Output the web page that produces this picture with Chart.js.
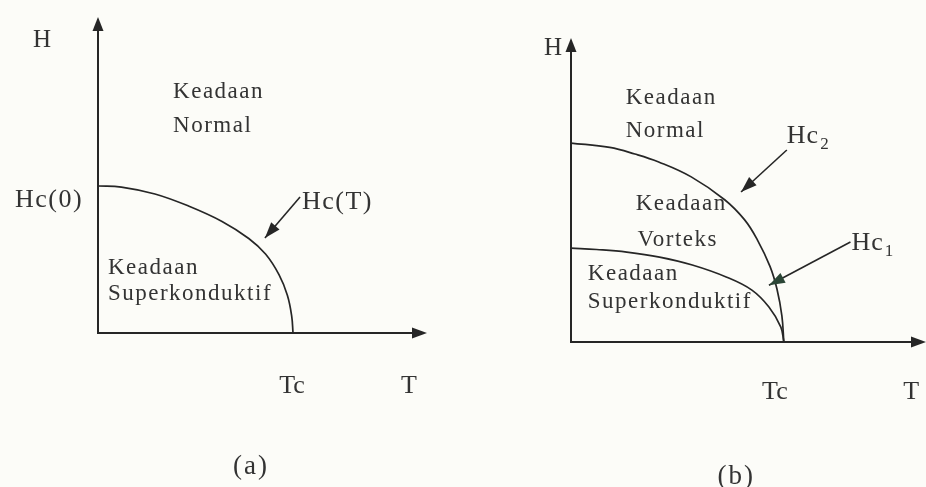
<!DOCTYPE html>
<html>
<head>
<meta charset="utf-8">
<script src="https://cdn.jsdelivr.net/npm/chart.js@4.4.1/dist/chart.umd.min.js"></script>
<style>
  html, body { margin: 0; padding: 0; background: #fcfcf8; }
  #wrap { position: relative; width: 926px; height: 487px; overflow: hidden; }
  #wrap canvas { position: absolute; top: 0; }
</style>
</head>
<body>
<div id="wrap">
  <canvas id="grafikA" width="463" height="487" style="left:0"></canvas>
  <canvas id="grafikB" width="463" height="487" style="left:463px"></canvas>
</div>
<script>
// suhu dalam satuan Tc, medan dalam satuan Hc(0) / Hc2(0)
const suhuA = [0, 0.12, 0.292, 0.464, 0.636, 0.773, 0.859, 0.928, 0.971, 0.993, 1.0];
const medanHcA = [1.0, 0.993, 0.946, 0.864, 0.759, 0.643, 0.537, 0.397, 0.257, 0.117, 0];

const suhuHc2 = [0, 0.182, 0.3, 0.412, 0.565, 0.722, 0.815, 0.875, 0.935, 0.968, 0.991, 1.0];
const medanHc2 = [1.0, 0.978, 0.945, 0.905, 0.83, 0.715, 0.615, 0.515, 0.38, 0.265, 0.13, 0];

const suhuHc1 = [0, 0.12, 0.262, 0.416, 0.57, 0.729, 0.85, 0.93, 0.986, 1.0];
const medanHc1 = [0.472, 0.465, 0.452, 0.427, 0.387, 0.327, 0.261, 0.176, 0.075, 0];

const labelSumbuX = ['Tc', 'T'];

const WARNA_GARIS = '#262626';
const WARNA_TEKS = '#333333';
const FONT = '"Liberation Serif", "DejaVu Serif", serif';

function keTitik(xs, ys) {
    return xs.map((x, i) => ({ x: x, y: ys[i] }));
}

function kepalaPanah(ctx, x0, y0, x1, y1, panjang, lebar) {
    const sudut = Math.atan2(y1 - y0, x1 - x0);
    const bx = x1 - panjang * Math.cos(sudut);
    const by = y1 - panjang * Math.sin(sudut);
    const nx = Math.sin(sudut) * lebar / 2;
    const ny = -Math.cos(sudut) * lebar / 2;
    ctx.beginPath();
    ctx.moveTo(x1, y1);
    ctx.lineTo(bx + nx, by + ny);
    ctx.lineTo(bx - nx, by - ny);
    ctx.closePath();
    ctx.fill();
}

// sumbu berpanah, penunjuk kurva dan semua teks
const pluginDiagram = {
    id: 'diagram',
    afterDatasetsDraw(chart, args, opts) {
        const ctx = chart.ctx;
        const sx = chart.scales.x, sy = chart.scales.y;
        const X = v => sx.getPixelForValue(v);
        const Y = v => sy.getPixelForValue(v);
        ctx.save();

        // sumbu H dan T
        ctx.strokeStyle = WARNA_GARIS;
        ctx.fillStyle = WARNA_GARIS;
        ctx.lineWidth = 2;
        ctx.beginPath();
        ctx.moveTo(X(0), Y(sy.max) + 8);
        ctx.lineTo(X(0), Y(0));
        ctx.lineTo(X(sx.max) - 8, Y(0));
        ctx.stroke();
        kepalaPanah(ctx, X(0), Y(0), X(0), Y(sy.max), 14, 11);
        kepalaPanah(ctx, X(0), Y(0), X(sx.max), Y(0), 15, 11);

        // penunjuk ke kurva
        ctx.lineWidth = 1.6;
        opts.penunjuk.forEach(p => {
            ctx.fillStyle = p.warna || WARNA_GARIS;
            ctx.strokeStyle = WARNA_GARIS;
            ctx.beginPath();
            ctx.moveTo(X(p.dari[0]), Y(p.dari[1]));
            ctx.lineTo(X(p.ke[0]), Y(p.ke[1]));
            ctx.stroke();
            kepalaPanah(ctx, X(p.dari[0]), Y(p.dari[1]), X(p.ke[0]), Y(p.ke[1]), 16, 11);
        });

        // teks
        ctx.fillStyle = WARNA_TEKS;
        ctx.textBaseline = 'middle';
        opts.teks.forEach(t => {
            ctx.font = t.ukuran + 'px ' + FONT;
            ctx.letterSpacing = (t.spasi || 0) + 'px';
            ctx.textAlign = t.rata || 'left';
            const px = X(t.x), py = Y(t.y);
            ctx.fillText(t.isi, px, py);
            if (t.sub) {
                const w = ctx.measureText(t.isi).width;
                ctx.font = Math.round(t.ukuran * 0.65) + 'px ' + FONT;
                ctx.fillText(t.sub, px + w + 1, py + 8);
            }
        });
        ctx.restore();
    }
};
Chart.register(pluginDiagram);

function opsiDiagram(xMax, yMax, padding, penunjuk, teks) {
    return {
        responsive: false,
        animation: false,
        events: [],
        layout: { padding: padding },
        plugins: {
            legend: { display: false },
            tooltip: { enabled: false },
            diagram: { penunjuk: penunjuk, teks: teks }
        },
        scales: {
            x: { type: 'linear', min: 0, max: xMax, display: false },
            y: { type: 'linear', min: 0, max: yMax, display: false }
        }
    };
}

function datasetKurva(xs, ys) {
    return {
        data: keTitik(xs, ys),
        showLine: true,
        borderColor: WARNA_GARIS,
        borderWidth: 1.7,
        pointRadius: 0,
        tension: 0.4,
        clip: false
    };
}

// (a) superkonduktor tipe I
new Chart(document.getElementById('grafikA').getContext('2d'), {
    type: 'scatter',
    data: { datasets: [datasetKurva(suhuA, medanHcA)] },
    options: opsiDiagram(1.687, 2.15,
        { left: 98, right: 36, top: 17, bottom: 154 },
        [{ dari: [1.036, 0.925], ke: [0.856, 0.646] }],
        [
            { isi: 'H', x: -0.287, y: 1.993, ukuran: 25, rata: 'center' },
            { isi: 'Keadaan', x: 0.385, y: 1.639, ukuran: 23, spasi: 1.5 },
            { isi: 'Normal', x: 0.385, y: 1.408, ukuran: 23, spasi: 1.5 },
            { isi: 'Hc(0)', x: -0.426, y: 0.905, ukuran: 26, spasi: 1.5 },
            { isi: 'Hc(T)', x: 1.046, y: 0.891, ukuran: 26, spasi: 1.5 },
            { isi: 'Keadaan', x: 0.051, y: 0.442, ukuran: 23, spasi: 1.5 },
            { isi: 'Superkonduktif', x: 0.051, y: 0.265, ukuran: 23, spasi: 1.5 },
            { isi: labelSumbuX[0], x: 0.995, y: -0.361, ukuran: 26, rata: 'center' },
            { isi: labelSumbuX[1], x: 1.595, y: -0.361, ukuran: 26, rata: 'center' },
            { isi: '(a)', x: 0.785, y: -0.912, ukuran: 27, spasi: 2, rata: 'center' }
        ])
});

// (b) superkonduktor tipe II
new Chart(document.getElementById('grafikB').getContext('2d'), {
    type: 'scatter',
    data: { datasets: [datasetKurva(suhuHc2, medanHc2), datasetKurva(suhuHc1, medanHc1)] },
    options: opsiDiagram(1.668, 1.528,
        { left: 108, right: 0, top: 38, bottom: 145 },
        [
            { dari: [1.014, 0.965], ke: [0.799, 0.754] },
            { dari: [1.313, 0.503], ke: [0.93, 0.285], warna: '#2b4636' }
        ],
        [
            { isi: 'H', x: -0.084, y: 1.477, ukuran: 25, rata: 'center' },
            { isi: 'Keadaan', x: 0.257, y: 1.226, ukuran: 23, spasi: 1.5 },
            { isi: 'Normal', x: 0.257, y: 1.060, ukuran: 23, spasi: 1.5 },
            { isi: 'Hc', sub: '2', x: 1.014, y: 1.035, ukuran: 26, spasi: 1 },
            { isi: 'Keadaan', x: 0.304, y: 0.693, ukuran: 23, spasi: 1.5 },
            { isi: 'Vorteks', x: 0.313, y: 0.513, ukuran: 23, spasi: 1.5 },
            { isi: 'Hc', sub: '1', x: 1.318, y: 0.497, ukuran: 26, spasi: 1 },
            { isi: 'Keadaan', x: 0.079, y: 0.342, ukuran: 23, spasi: 1.5 },
            { isi: 'Superkonduktif', x: 0.079, y: 0.201, ukuran: 23, spasi: 1.5 },
            { isi: labelSumbuX[0], x: 0.958, y: -0.251, ukuran: 26, rata: 'center' },
            { isi: labelSumbuX[1], x: 1.598, y: -0.251, ukuran: 26, rata: 'center' },
            { isi: '(b)', x: 0.776, y: -0.678, ukuran: 27, spasi: 2, rata: 'center' }
        ])
});
</script>
</body>
</html>
